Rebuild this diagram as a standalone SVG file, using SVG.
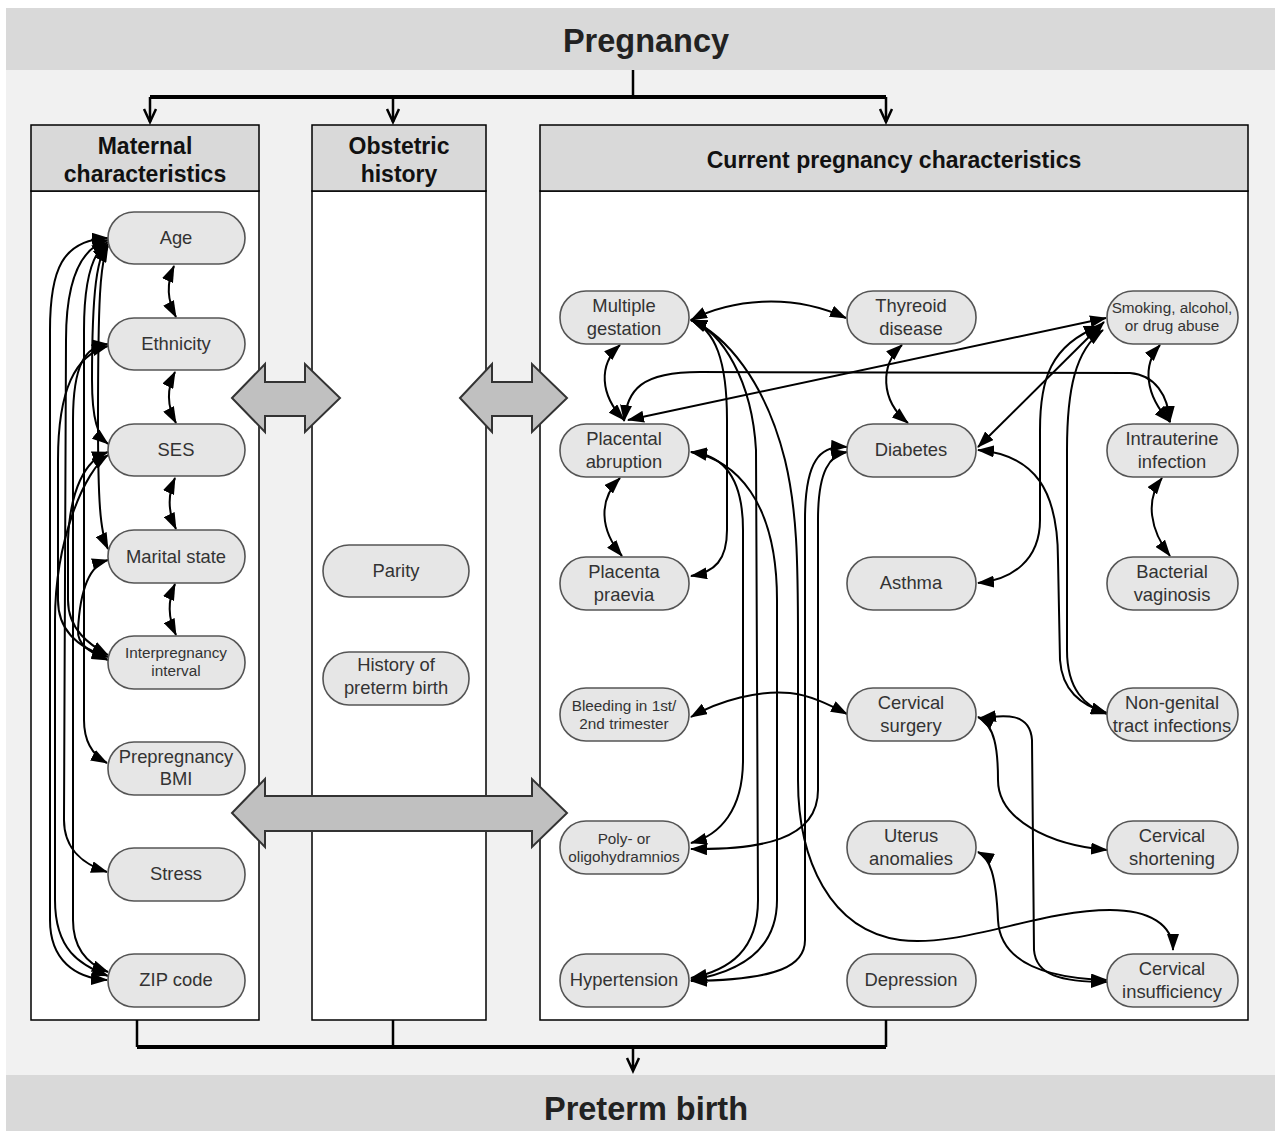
<svg xmlns="http://www.w3.org/2000/svg" width="1275" height="1133" viewBox="0 0 1275 1133">
<defs>
<marker id="ah" markerUnits="userSpaceOnUse" markerWidth="17" markerHeight="12" refX="16" refY="6" orient="auto-start-reverse" viewBox="0 0 17 12">
<path d="M0,0 L17,6 L0,12 z" fill="#000"/>
</marker>
</defs>
<style>
.bandtxt{font-family:"Liberation Sans",Arial,sans-serif;font-weight:bold;font-size:32.5px;fill:#222;text-anchor:middle}
.hdr{fill:#d9d9d9;stroke:#000;stroke-width:1.5}
.body{fill:#fff;stroke:#000;stroke-width:1.5}
.htxt{font-family:"Liberation Sans",Arial,sans-serif;font-weight:bold;font-size:23px;fill:#111;text-anchor:middle}
.node rect{fill:#e6e6e6;stroke:#555;stroke-width:1.6}
.node text{font-family:"Liberation Sans",Arial,sans-serif;font-size:18.4px;fill:#333;text-anchor:middle}
.node text.s{font-size:15.3px}
.c path{fill:none;stroke:#000;stroke-width:2;marker-start:url(#ah);marker-end:url(#ah)}
.blk{fill:#c0c0c0;stroke:#333;stroke-width:2;stroke-linejoin:miter}
.flow{fill:none;stroke:#000;stroke-width:2.5}
</style>
<rect x="6" y="8" width="1269" height="1123" fill="#f1f1f1"/>
<rect x="6" y="8" width="1269" height="62" fill="#d9d9d9"/>
<rect x="6" y="1075" width="1269" height="56" fill="#d9d9d9"/>
<text class="bandtxt" x="646" y="52">Pregnancy</text>
<text class="bandtxt" x="646" y="1120">Preterm birth</text>

<g id="flow-top">
<path class="flow" d="M633,70 V97"/>
<path d="M150,97 H886" stroke="#000" stroke-width="4" fill="none"/>
<path class="flow" d="M150,97 V122 M393,97 V122 M886,97 V122"/>
<path class="flow" d="M144,109 L150,122 L156,109 M387,109 L393,122 L399,109 M880,109 L886,122 L892,109"/>
</g>
<g id="flow-bottom">
<path class="flow" d="M137,1020 V1047 M393,1020 V1047 M886,1020 V1047"/>
<path d="M137,1047 H886" stroke="#000" stroke-width="4" fill="none"/>
<path class="flow" d="M633,1047 V1071 M627,1058 L633,1071 L639,1058"/>
</g>

<g id="panel-maternal">
<rect class="body" x="31" y="191" width="228" height="829"/>
<rect class="hdr" x="31" y="125" width="228" height="66"/>
<text class="htxt" x="145" y="154">Maternal</text>
<text class="htxt" x="145" y="182">characteristics</text>
</g>
<g id="panel-obstetric">
<rect class="body" x="312" y="191" width="174" height="829"/>
<rect class="hdr" x="312" y="125" width="174" height="66"/>
<text class="htxt" x="399" y="154">Obstetric</text>
<text class="htxt" x="399" y="182">history</text>
</g>
<g id="panel-current">
<rect class="body" x="540" y="191" width="708" height="829"/>
<rect class="hdr" x="540" y="125" width="708" height="66"/>
<text class="htxt" x="894" y="168">Current pregnancy characteristics</text>
</g>

<g id="block-arrows">
<polygon class="blk" points="232,398 265,364 265,382 305,382 305,364 340,398 305,432 305,416 265,416 265,432"/>
<polygon class="blk" points="460,398 492,364 492,382 532,382 532,364 567,398 532,432 532,416 492,416 492,432"/>
<polygon class="blk" points="232,813 265,779 265,796 532,796 532,779 567,813 532,847 532,831 265,831 265,847"/>
</g>

<g id="connectors" class="c">
<path d="M174,266 C166,284 167,300 176,317"/>
<path d="M175,372 C166,390 167,406 176,423"/>
<path d="M175,478 C167,496 168,512 176,529"/>
<path d="M175,584 C167,602 168,618 176,635"/>
<path d="M108,238 C62,240 50,270 50,330 L50,920 C50,960 75,978 107,980"/>
<path d="M108,240 C80,248 66,280 66,340 L64,820 C64,850 85,865 107,872"/>
<path d="M108,242 C92,252 84,280 84,330 L84,720 C84,745 96,757 107,763"/>
<path d="M108,244 C97,256 92,290 92,380 C92,420 98,436 108,444"/>
<path d="M108,246 C100,262 98,300 98,420 C98,500 100,532 108,549"/>
<path d="M108,344 C85,346 73,365 73,420 L73,920 C73,950 90,965 108,972"/>
<path d="M108,346 C75,355 58,390 58,460 L58,600 C58,635 85,650 108,657"/>
<path d="M108,452 C85,460 70,490 68,540 L68,600 C68,630 90,645 108,655"/>
<path d="M108,455 C85,470 55,540 55,620 L55,900 C55,950 80,965 108,976"/>
<path d="M108,560 C90,565 80,590 78,630 C77,645 90,652 108,660"/>
<path d="M691,320 C730,300 790,292 846,318"/>
<path d="M620,345 C598,365 600,395 624,420"/>
<path d="M620,478 C598,500 600,530 622,556"/>
<path d="M624,421 C628,390 640,372 700,372 L1130,373 C1155,375 1168,395 1170,422"/>
<path d="M628,420 L1106,318"/>
<path d="M902,345 C880,365 880,400 908,423"/>
<path d="M1104,322 L978,447"/>
<path d="M1100,326 C1050,345 1040,380 1040,430 L1040,520 C1040,560 1012,580 978,583"/>
<path d="M1103,330 C1075,350 1067,390 1067,450 L1067,650 C1067,690 1085,706 1107,714"/>
<path d="M978,450 C1035,455 1058,490 1058,560 L1060,660 C1062,690 1080,705 1107,713"/>
<path d="M1160,345 C1142,365 1145,395 1170,422"/>
<path d="M1162,478 C1145,500 1150,530 1170,556"/>
<path d="M691,320 C715,330 727,360 727,420 L727,530 C727,560 715,572 691,576"/>
<path d="M691,320 C722,332 752,380 756,450 L758,900 C758,950 730,970 691,978"/>
<path d="M691,320 C725,335 765,380 785,460 C797,510 798,560 798,640 L798,780 C798,860 830,930 900,940 C960,948 1040,910 1110,910 C1150,910 1173,925 1173,950"/>
<path d="M691,452 C725,455 743,480 743,530 L743,760 C743,810 720,835 691,843"/>
<path d="M691,452 C735,460 777,500 777,600 L777,900 C777,950 740,972 691,980"/>
<path d="M847,447 C820,445 805,460 805,520 L805,940 C805,965 780,980 691,981"/>
<path d="M847,452 C830,455 818,470 818,520 L818,790 C818,840 760,850 691,849"/>
<path d="M691,717 C720,700 760,690 790,693 C810,695 830,705 847,714"/>
<path d="M978,717 C995,725 998,750 998,780 C998,820 1050,845 1107,850"/>
<path d="M980,718 C1005,715 1030,712 1032,740 L1034,950 C1036,975 1060,982 1107,982"/>
<path d="M978,852 C990,858 996,875 998,920 C1000,960 1040,978 1107,980"/>
</g>

<g id="n-age" class="node"><rect x="108" y="212" width="137" height="52" rx="26"/><text x="176" y="244">Age</text></g>
<g id="n-ethnicity" class="node"><rect x="108" y="318" width="137" height="52" rx="26"/><text x="176" y="350">Ethnicity</text></g>
<g id="n-ses" class="node"><rect x="108" y="424" width="137" height="52" rx="26"/><text x="176" y="456">SES</text></g>
<g id="n-marital" class="node"><rect x="108" y="530" width="137" height="53" rx="26"/><text x="176" y="563">Marital state</text></g>
<g id="n-interpregnancy" class="node"><rect x="108" y="636" width="137" height="53" rx="26"/><text class="s" x="176" y="658">Interpregnancy</text><text class="s" x="176" y="676">interval</text></g>
<g id="n-bmi" class="node"><rect x="108" y="742" width="137" height="53" rx="26"/><text x="176" y="763">Prepregnancy</text><text x="176" y="785">BMI</text></g>
<g id="n-stress" class="node"><rect x="108" y="848" width="137" height="53" rx="26"/><text x="176" y="880">Stress</text></g>
<g id="n-zip" class="node"><rect x="108" y="954" width="137" height="53" rx="26"/><text x="176" y="986">ZIP code</text></g>

<g id="n-parity" class="node"><rect x="323" y="545" width="146" height="52" rx="26"/><text x="396" y="577">Parity</text></g>
<g id="n-history" class="node"><rect x="323" y="652" width="146" height="53" rx="26"/><text x="396" y="671">History of</text><text x="396" y="694">preterm birth</text></g>

<g id="n-multiple" class="node"><rect x="560" y="291" width="129" height="53" rx="26"/><text x="624" y="312">Multiple</text><text x="624" y="335">gestation</text></g>
<g id="n-thyreoid" class="node"><rect x="847" y="291" width="129" height="53" rx="26"/><text x="911" y="312">Thyreoid</text><text x="911" y="335">disease</text></g>
<g id="n-smoking" class="node"><rect x="1107" y="291" width="131" height="53" rx="26"/><text class="s" x="1172" y="313">Smoking, alcohol,</text><text class="s" x="1172" y="331">or drug abuse</text></g>
<g id="n-abruption" class="node"><rect x="560" y="424" width="129" height="53" rx="26"/><text x="624" y="445">Placental</text><text x="624" y="468">abruption</text></g>
<g id="n-diabetes" class="node"><rect x="847" y="424" width="129" height="53" rx="26"/><text x="911" y="456">Diabetes</text></g>
<g id="n-intrauterine" class="node"><rect x="1107" y="424" width="131" height="53" rx="26"/><text x="1172" y="445">Intrauterine</text><text x="1172" y="468">infection</text></g>
<g id="n-praevia" class="node"><rect x="560" y="557" width="129" height="53" rx="26"/><text x="624" y="578">Placenta</text><text x="624" y="601">praevia</text></g>
<g id="n-asthma" class="node"><rect x="847" y="557" width="129" height="53" rx="26"/><text x="911" y="589">Asthma</text></g>
<g id="n-bacterial" class="node"><rect x="1107" y="557" width="131" height="53" rx="26"/><text x="1172" y="578">Bacterial</text><text x="1172" y="601">vaginosis</text></g>
<g id="n-bleeding" class="node"><rect x="560" y="688" width="129" height="53" rx="26"/><text class="s" x="624" y="711">Bleeding in 1st/</text><text class="s" x="624" y="729">2nd trimester</text></g>
<g id="n-surgery" class="node"><rect x="847" y="688" width="129" height="53" rx="26"/><text x="911" y="709">Cervical</text><text x="911" y="732">surgery</text></g>
<g id="n-nongenital" class="node"><rect x="1107" y="688" width="131" height="53" rx="26"/><text x="1172" y="709">Non-genital</text><text x="1172" y="732">tract infections</text></g>
<g id="n-poly" class="node"><rect x="560" y="821" width="129" height="53" rx="26"/><text class="s" x="624" y="844">Poly- or</text><text class="s" x="624" y="862">oligohydramnios</text></g>
<g id="n-uterus" class="node"><rect x="847" y="821" width="129" height="53" rx="26"/><text x="911" y="842">Uterus</text><text x="911" y="865">anomalies</text></g>
<g id="n-shortening" class="node"><rect x="1107" y="821" width="131" height="53" rx="26"/><text x="1172" y="842">Cervical</text><text x="1172" y="865">shortening</text></g>
<g id="n-hypertension" class="node"><rect x="560" y="954" width="129" height="53" rx="26"/><text x="624" y="986">Hypertension</text></g>
<g id="n-depression" class="node"><rect x="847" y="954" width="129" height="53" rx="26"/><text x="911" y="986">Depression</text></g>
<g id="n-insufficiency" class="node"><rect x="1107" y="954" width="131" height="53" rx="26"/><text x="1172" y="975">Cervical</text><text x="1172" y="998">insufficiency</text></g>
</svg>
